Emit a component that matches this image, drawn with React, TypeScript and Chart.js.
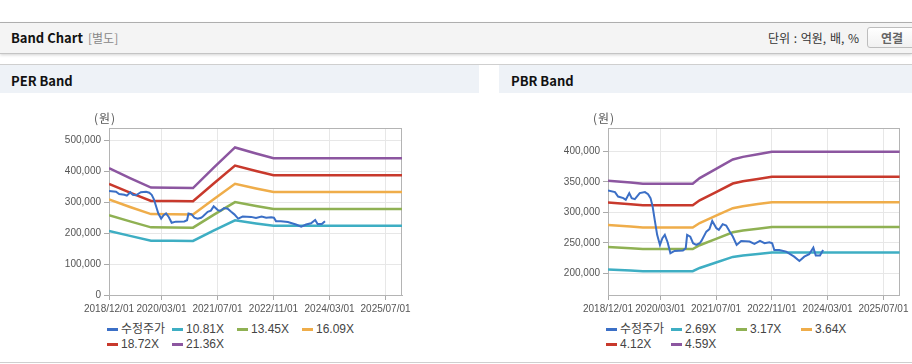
import React, { useEffect, useRef } from "react";
import { Chart, registerables } from "chart.js";

Chart.register(...registerables);

// ---------- data ----------
const xTickMonths = [0, 15, 31, 47, 63, 79];
const xTickLabels = ["2018/12/01", "2020/03/01", "2021/07/01", "2022/11/01", "2024/03/01", "2025/07/01"];

const priceMonths = [0, 2, 2.9, 4.4, 5.1, 6.1, 6.8, 7.7, 9.1, 10.6, 11.5, 12.2, 12.8, 13.4, 14.1, 14.9, 15.6, 16.3, 17.1, 17.9, 19.1, 21.5, 22.3, 22.7, 23.6, 24.4, 25.3, 26.3, 26.8, 28.2, 29.1, 29.9, 31.1, 31.8, 32.9, 33.9, 34.9, 35.8, 36.9, 38.2, 40.6, 42, 43.6, 44.9, 46.3, 47.1, 47.7, 49.1, 51.1, 53.4, 54.9, 56.3, 57.7, 58.9, 59.6, 60.8, 61.7];
const priceValues = [335900, 333200, 326000, 323400, 320600, 331600, 323400, 321700, 331600, 333200, 329900, 323400, 309500, 287700, 263000, 246500, 257600, 263000, 251000, 232900, 236700, 237200, 241100, 263000, 260200, 249300, 246500, 249300, 253100, 268400, 272400, 286000, 274000, 271200, 280600, 278300, 268400, 260200, 246500, 253100, 252000, 248200, 253100, 249300, 251000, 249300, 238300, 238300, 235500, 227300, 220200, 227300, 231300, 242100, 229000, 229000, 238300];

const perBandMonths = [0, 6, 12, 18, 24, 30, 36, 42, 47, 83.7];
const per1081 = [207000, 190800, 175300, 175100, 174600, 208300, 241000, 230900, 223200, 223200];
const per1345 = [257600, 237400, 218200, 217900, 217200, 259200, 299800, 287300, 277700, 277700];
const per1609 = [308100, 284000, 261000, 260700, 259900, 310100, 358600, 343700, 332300, 332300];
const per1872 = [358500, 330400, 303600, 303300, 302300, 360700, 417300, 399900, 386600, 386600];
const per2136 = [409000, 377000, 346500, 346000, 345000, 411600, 476100, 456300, 441100, 441100];
const perLabels = ["수정주가", "10.81X", "13.45X", "16.09X", "18.72X", "21.36X"];
const perYTicks = [0, 100000, 200000, 300000, 400000, 500000];

const pbrBandMonths = [0, 6.5, 10, 24.3, 26.3, 31, 35.8, 38.7, 43, 47, 83.7];
const pbr269 = [206300, 204600, 203400, 203400, 208700, 217600, 226800, 229200, 231700, 234000, 234000];
const pbr317 = [243100, 241100, 239700, 239700, 246000, 256500, 267200, 270100, 273100, 275800, 275800];
const pbr364 = [279200, 276900, 275200, 275200, 282500, 294500, 306900, 310100, 313600, 316700, 316700];
const pbr412 = [316000, 313400, 311500, 311500, 319700, 333300, 347300, 351000, 354900, 358400, 358400];
const pbr459 = [352100, 349100, 347000, 347000, 356200, 371300, 386900, 391100, 395400, 399300, 399300];
const pbrLabels = ["수정주가", "2.69X", "3.17X", "3.64X", "4.12X", "4.59X"];
const pbrYTicks = [200000, 250000, 300000, 350000, 400000];

const seriesColors = ["#3b6fc6", "#3eaec3", "#8fb153", "#efad4a", "#c8392c", "#8c56a0"];

// ---------- styles ----------
const tickFont = { family: "'Liberation Sans', Arial, sans-serif", size: 10 };
const uiFont = "'Noto Sans CJK KR', 'Noto Sans', sans-serif";

const framePlugin = {
  id: "frame",
  beforeDatasetsDraw(chart: any) {
    const { ctx, chartArea: a } = chart;
    ctx.save();
    ctx.strokeStyle = "#b4b4b4";
    ctx.lineWidth = 1;
    ctx.strokeRect(Math.round(a.left) + 0.5, Math.round(a.top) + 0.5, Math.round(a.right - a.left) - 1, Math.round(a.bottom - a.top));
    ctx.restore();
  },
};

type BandProps = {
  panelLeft: number;
  canvasWidth: number;
  plotRight: number;
  bandMonths: number[];
  bands: number[][];
  labels: string[];
  yMin: number;
  yMax: number;
  yTicks: number[];
};

function toPoints(xs: number[], ys: number[]) {
  return xs.map((x, i) => ({ x, y: ys[i] }));
}

function BandChart(props: BandProps) {
  const ref = useRef<HTMLCanvasElement>(null);
  const { panelLeft, canvasWidth, plotRight, bandMonths, bands, labels, yMin, yMax, yTicks } = props;
  const canvasTop = 100;
  const canvasHeight = 215;

  useEffect(() => {
    if (!ref.current) return;
    const datasets: any[] = [
      {
        label: labels[0],
        data: toPoints(priceMonths, priceValues),
        borderColor: seriesColors[0],
        borderWidth: 2,
        pointRadius: 0,
        order: 0,
      },
      ...bands.map((b, i) => ({
        label: labels[i + 1],
        data: toPoints(bandMonths, b),
        borderColor: seriesColors[i + 1],
        borderWidth: 2.5,
        pointRadius: 0,
        order: 1,
      })),
    ];
    const chart = new Chart(ref.current, {
      type: "line",
      data: { datasets },
      plugins: [framePlugin],
      options: {
        responsive: false,
        animation: false,
        layout: { padding: { left: 0, right: canvasWidth - plotRight, top: 28, bottom: 0 } },
        plugins: { legend: { display: false }, tooltip: { enabled: false } },
        elements: { line: { tension: 0 }, point: { radius: 0 } },
        scales: {
          x: {
            type: "linear",
            min: 0,
            max: 83.7,
            afterBuildTicks: (s: any) => {
              s.ticks = xTickMonths.map((v) => ({ value: v }));
            },
            afterFit: (s: any) => {
              s.height = 20;
            },
            ticks: {
              callback: (_v: any, i: number) => xTickLabels[i],
              color: "#555",
              font: tickFont,
              maxRotation: 0,
              autoSkip: false,
              padding: 3,
            },
            grid: { color: "#e7e7e7", tickColor: "#aaa", tickLength: 5 },
            border: { color: "#b4b4b4" },
          },
          y: {
            type: "linear",
            min: yMin,
            max: yMax,
            afterBuildTicks: (s: any) => {
              s.ticks = yTicks.map((v) => ({ value: v }));
            },
            afterFit: (s: any) => {
              s.width = 109;
            },
            ticks: {
              callback: (v: any) => Number(v).toLocaleString("en-US"),
              color: "#555",
              font: tickFont,
              padding: 3,
            },
            grid: { color: "#e7e7e7", tickColor: "#aaa", tickLength: 5 },
            border: { color: "#b4b4b4" },
          },
        },
      } as any,
    });
    return () => chart.destroy();
  }, []);

  return (
    <>
      <canvas
        ref={ref}
        width={canvasWidth}
        height={canvasHeight}
        style={{ position: "absolute", left: panelLeft, top: canvasTop, width: canvasWidth, height: canvasHeight }}
      />
      <span style={{ position: "absolute", left: panelLeft + 94, top: 110, fontSize: 12, lineHeight: "16px", color: "#555", fontFamily: uiFont, letterSpacing: 1 }}>(원)</span>
      {labels.map((lab, i) => {
        const col = i % 4;
        const row = Math.floor(i / 4);
        return (
          <div
            key={lab}
            style={{
              position: "absolute",
              left: panelLeft + 107 + col * 65,
              top: 321 + row * 15,
              height: 16,
              display: "flex",
              alignItems: "center",
              whiteSpace: "nowrap",
            }}
          >
            <span style={{ display: "inline-block", width: 11, height: 3, background: seriesColors[i], marginRight: 3 }} />
            <span style={{ fontSize: 12, color: "#444", fontFamily: "'Liberation Sans', 'Noto Sans CJK KR', sans-serif", lineHeight: "16px" }}>{lab}</span>
          </div>
        );
      })}
    </>
  );
}

export default function App() {
  return (
    <div style={{ position: "absolute", left: 0, top: 0, width: 912, height: 364, background: "#fff", overflow: "hidden", fontFamily: uiFont }}>
      {/* top header */}
      <div style={{ position: "absolute", left: 0, top: 22, width: 912, height: 1, background: "#b3b3b3" }} />
      <div style={{ position: "absolute", left: 0, top: 23, width: 912, height: 30, background: "#f4f4f4", borderBottom: "1px solid #c4c4c4", boxShadow: "0 1px 3px rgba(0,0,0,0.18)" }} />
      <div style={{ position: "absolute", left: 11, top: 29, fontSize: 13, lineHeight: "18px", fontWeight: 700, color: "#111" }}>Band Chart</div>
      <div style={{ position: "absolute", left: 88, top: 29, fontSize: 12, lineHeight: "18px", color: "#888" }}>[별도]</div>
      <div style={{ position: "absolute", right: 53, top: 29, fontSize: 12, lineHeight: "18px", color: "#333", wordSpacing: 1 }}>단위 : 억원, 배, %</div>
      <div style={{ position: "absolute", left: 867, top: 27, width: 48, height: 19, border: "1px solid #bdbdbd", borderRadius: 3, background: "linear-gradient(#ffffff, #f1f1f1)", fontSize: 12, lineHeight: "19px", fontWeight: 700, color: "#666", textAlign: "center" }}>연결</div>

      {/* panels */}
      <div style={{ position: "absolute", left: 0, top: 64, width: 912, height: 1, background: "#cfcfcf" }} />
      <div style={{ position: "absolute", left: 0, top: 65, width: 479, height: 28, background: "#eef2f7" }} />
      <div style={{ position: "absolute", left: 499, top: 65, width: 413, height: 28, background: "#eef2f7" }} />
      <div style={{ position: "absolute", left: 11, top: 71, fontSize: 13, lineHeight: "19px", fontWeight: 700, color: "#111" }}>PER Band</div>
      <div style={{ position: "absolute", left: 511, top: 71, fontSize: 13, lineHeight: "19px", fontWeight: 700, color: "#111" }}>PBR Band</div>
      <div style={{ position: "absolute", left: 0, top: 362, width: 912, height: 1, background: "#cfcfcf" }} />

      <BandChart
        panelLeft={0}
        canvasWidth={479}
        plotRight={402}
        bandMonths={perBandMonths}
        bands={[per1081, per1345, per1609, per1872, per2136]}
        labels={perLabels}
        yMin={0}
        yMax={538800}
        yTicks={perYTicks}
      />
      <BandChart
        panelLeft={499}
        canvasWidth={413}
        plotRight={403}
        bandMonths={pbrBandMonths}
        bands={[pbr269, pbr317, pbr364, pbr412, pbr459]}
        labels={pbrLabels}
        yMin={164300}
        yMax={438500}
        yTicks={pbrYTicks}
      />
    </div>
  );
}
